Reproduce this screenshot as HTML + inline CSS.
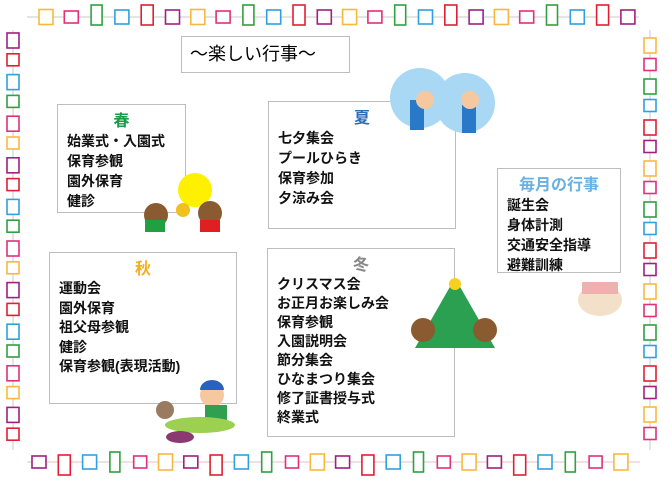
<!DOCTYPE html>
<html><head><meta charset="utf-8"><style>
body{margin:0;width:670px;height:481px;background:#fff;position:relative;overflow:hidden;font-family:"Liberation Sans","Noto Sans CJK JP",sans-serif}
.b{position:absolute;border:1px solid #bdbdbd;background:#fff;box-sizing:border-box}
.t{text-align:center;font-weight:bold;font-size:16px;line-height:18px;margin-top:8px}
.i{font-weight:bold;font-size:14px;line-height:20px;padding-left:9px;color:#111;white-space:nowrap}
svg{position:absolute;left:0;top:0}
</style></head><body>
<svg width="670" height="481" id="s"></svg>
<div class="b" style="left:181px;top:36px;width:169px;height:37px;font-size:18px;line-height:35px;padding-left:8px">〜楽しい行事〜</div>
<div class="b" style="left:57px;top:104px;width:129px;height:109px"><div class="t" style="color:#1a9a4a">春</div><div class="i">始業式・入園式<br>保育参観<br>園外保育<br>健診</div></div>
<div class="b" style="left:268px;top:101px;width:188px;height:128px"><div class="t" style="color:#2a6fb8">夏</div><div class="i">七夕集会<br>プールひらき<br>保育参加<br>夕涼み会</div></div>
<div class="b" style="left:497px;top:168px;width:124px;height:105px"><div class="t" style="color:#6ab0e0">毎月の行事</div><div class="i">誕生会<br>身体計測<br>交通安全指導<br>避難訓練</div></div>
<div class="b" style="left:49px;top:252px;width:188px;height:152px"><div class="t" style="color:#f0b020">秋</div><div class="i" style="line-height:19.5px">運動会<br>園外保育<br>祖父母参観<br>健診<br>保育参観(表現活動)</div></div>
<div class="b" style="left:267px;top:248px;width:188px;height:189px"><div class="t" style="color:#888">冬</div><div class="i" style="line-height:19px">クリスマス会<br>お正月お楽しみ会<br>保育参観<br>入園説明会<br>節分集会<br>ひなまつり集会<br>修了証書授与式<br>終業式</div></div>
<svg width="670" height="481">
<circle cx="420" cy="98" r="30" fill="#a8d8f4"/><circle cx="465" cy="103" r="30" fill="#a8d8f4"/>
<rect x="410" y="100" width="14" height="30" fill="#2a78c8"/><circle cx="425" cy="100" r="9" fill="#f6c8a0"/>
<rect x="462" y="105" width="14" height="28" fill="#2a78c8"/><circle cx="470" cy="100" r="9" fill="#f6c8a0"/>
<circle cx="195" cy="190" r="17" fill="#fff000"/>
<circle cx="156" cy="215" r="12" fill="#8a5a30"/><rect x="145" y="220" width="20" height="12" fill="#20a040"/>
<circle cx="210" cy="213" r="12" fill="#8a5a30"/><rect x="200" y="220" width="20" height="12" fill="#e02020"/>
<circle cx="183" cy="210" r="7" fill="#f0c020"/>
<polygon points="455,278 415,348 495,348" fill="#2aa050"/><circle cx="455" cy="284" r="6" fill="#f8d020"/>
<circle cx="423" cy="330" r="12" fill="#8a5a30"/><circle cx="485" cy="330" r="12" fill="#8a5a30"/>
<ellipse cx="600" cy="300" rx="22" ry="16" fill="#f2e0c8"/><rect x="582" y="282" width="36" height="12" fill="#f0b0b0"/>
<circle cx="212" cy="395" r="12" fill="#f6c8a0"/><path d="M200,390 a12,10 0 0 1 24,0z" fill="#2a60c0"/>
<rect x="205" y="405" width="22" height="20" fill="#30a050"/><ellipse cx="200" cy="425" rx="35" ry="8" fill="#9cd050"/>
<ellipse cx="165" cy="410" rx="9" ry="9" fill="#9a7a60"/><ellipse cx="180" cy="437" rx="14" ry="6" fill="#8a3a70"/>
</svg>
<script>
var s=document.getElementById('s'),h='';
var C=['#f8b840','#e0307a','#30a040','#30a0e0','#e02030','#a02080'];
var D=[[14,15],[14,12],[11,20],[14,14],[12,20],[14,14]];
h+='<line x1="27" y1="17" x2="639" y2="17" stroke="#c8c8c8"/>';
for(var k=0;k<24;k++){var x=46+k*25.3,c=k%6,d=D[c];h+='<rect x="'+(x-d[0]/2)+'" y="'+(17-d[1]/2+(c==2||c==4?-2:0))+'" width="'+d[0]+'" height="'+d[1]+'" fill="#fff" stroke="'+C[c]+'" stroke-width="1.6"/>';}
h+='<line x1="27" y1="462" x2="640" y2="462" stroke="#e0c0c0"/>';
var B=['#a02080','#e02030','#30a0e0','#30a040','#e0307a','#f8b840'];
for(k=0;k<24;k++){var x=39+k*25.3,c=k%6,d=[[14,12],[12,20],[14,14],[10,20],[13,12],[14,16]][c];h+='<rect x="'+(x-d[0]/2)+'" y="'+(462-d[1]/2+(c==1?3:0))+'" width="'+d[0]+'" height="'+d[1]+'" fill="#fff" stroke="'+B[c]+'" stroke-width="1.6"/>';}
h+='<line x1="13" y1="30" x2="13" y2="450" stroke="#c8c8c8"/><line x1="650" y1="30" x2="650" y2="450" stroke="#c8c8c8"/>';
var L=['#a02080','#e02030','#30a0e0','#30a040','#e0307a','#f8b840'];
for(k=0;k<20;k++){var y=40+k*20.8,c=k%6;h+='<rect x="'+(7)+'" y="'+(y-7)+'" width="12" height="'+(c%2?12:15)+'" fill="#fff" stroke="'+L[c]+'" stroke-width="1.6"/>';}
var R=['#f8b840','#e0307a','#30a040','#30a0e0','#e02030','#a02080'];
for(k=0;k<20;k++){var y=45+k*20.5,c=k%6;h+='<rect x="'+(644)+'" y="'+(y-7)+'" width="12" height="'+(c%2?12:15)+'" fill="#fff" stroke="'+R[c]+'" stroke-width="1.6"/>';}
s.innerHTML=h;
</script>
</body></html>
